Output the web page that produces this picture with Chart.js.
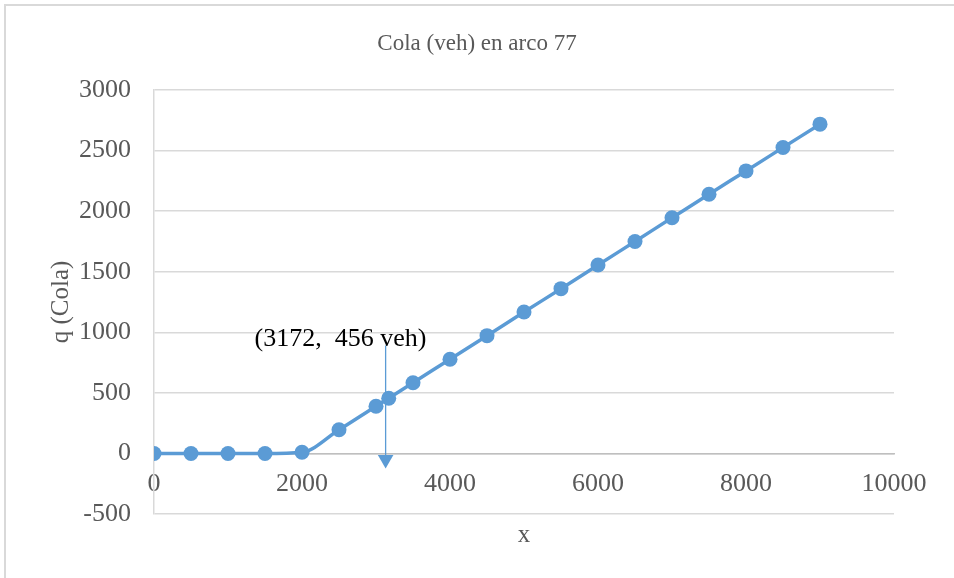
<!DOCTYPE html>
<html>
<head>
<meta charset="utf-8">
<script src="https://cdn.jsdelivr.net/npm/chart.js@4.4.1/dist/chart.umd.min.js"></script>
<style>
  body { margin: 0; background: #fff; }
  #wrap { position: relative; width: 954px; height: 578px; overflow: hidden; }
  #frame { position: absolute; left: 4px; top: 4px; width: 1000px; height: 1000px; border: 2px solid #d9d9d9; }
  #chart { position: absolute; left: 0; top: 0; }
</style>
</head>
<body>
<div id="wrap">
  <div id="frame"></div>
  <canvas id="chart" width="954" height="578"></canvas>
</div>
<script>
// datos de la cola en el arco 77
const xs = [0, 500, 1000, 1500, 2000, 2500, 3000, 3172, 3500, 4000, 4500, 5000, 5500, 6000, 6500, 7000, 7500, 8000, 8500, 9000];
const qs = [0, 0, 0, 0, 10, 195, 390, 456, 583, 778, 972, 1167, 1360, 1555, 1750, 1945, 2140, 2332, 2525, 2718];

// flecha de la anotacion
const arrowX = [3130, 3130];
const arrowY = [890, -50];
const noteText = "(3172,  456 veh)";
const notePos = [2520, 946];

const azul = "#5b9bd5";
const gris = "#595959";
const serif = "'Liberation Serif', 'Times New Roman', serif";

const plainTick = v => String(v);

const notePlugin = {
    id: "note",
    afterDatasetsDraw(chart) {
        const ctx = chart.ctx;
        const px = chart.scales.x.getPixelForValue(notePos[0]);
        const py = chart.scales.y.getPixelForValue(notePos[1]);
        ctx.save();
        ctx.font = "26px " + serif;
        ctx.fillStyle = "#000";
        ctx.textAlign = "center";
        ctx.textBaseline = "middle";
        ctx.fillText(noteText, px, py);
        ctx.restore();
    }
};

new Chart(document.getElementById("chart"), {
    type: "line",
    data: {
        datasets: [
            {
                label: "flecha",
                data: arrowX.map((x, i) => ({ x: x, y: arrowY[i] })),
                borderColor: azul,
                backgroundColor: azul,
                borderWidth: 1.3,
                pointRadius: [0, 9],
                pointStyle: "triangle",
                rotation: 180,
                pointBorderWidth: 0,
                tension: 0
            },
            {
                label: "q (Cola)",
                data: xs.map((x, i) => ({ x: x, y: qs[i] })),
                borderColor: azul,
                backgroundColor: azul,
                borderWidth: 3.5,
                pointRadius: 7.5,
                pointBorderWidth: 0,
                pointBackgroundColor: azul,
                cubicInterpolationMode: "monotone",
                tension: 0.4
            }
        ]
    },
    options: {
        responsive: false,
        animation: false,
        layout: { padding: { left: 0, right: 0, top: 0, bottom: 0 } },
        plugins: {
            legend: { display: false },
            tooltip: { enabled: false },
            title: {
                display: true,
                text: "Cola (veh) en arco 77",
                color: gris,
                font: { family: serif, size: 23, weight: "normal" },
                padding: { top: 30, bottom: 32.4 }
            }
        },
        scales: {
            x: {
                type: "linear",
                position: "bottom",
                min: 0,
                max: 10000,
                ticks: { display: false },
                grid: { display: false, drawTicks: false },
                border: { display: false },
                title: {
                    display: true,
                    text: "x",
                    color: gris,
                    font: { family: serif, size: 25 },
                    padding: { top: 0, bottom: 28 }
                },
                afterFit: s => { s.height = 64; }
            },
            x2: {
                type: "linear",
                position: { y: 0 },
                min: 0,
                max: 10000,
                ticks: {
                    stepSize: 2000,
                    color: gris,
                    padding: 15,
                    font: { family: serif, size: 26 },
                    callback: plainTick
                },
                grid: { display: false, drawTicks: false },
                border: { display: true, color: "#bfbfbf", width: 1.5 }
            },
            y: {
                position: "left",
                min: -500,
                max: 3000,
                ticks: {
                    stepSize: 500,
                    color: gris,
                    padding: 23,
                    font: { family: serif, size: 26 },
                    callback: plainTick
                },
                grid: { color: "#d9d9d9", lineWidth: 1.5, drawTicks: false },
                border: { display: true, color: "#d9d9d9", width: 1.5 },
                title: {
                    display: true,
                    text: "q (Cola)",
                    color: gris,
                    font: { family: serif, size: 25 },
                    padding: { top: 46, bottom: 0 }
                },
                afterFit: s => { s.width = 154; }
            },
            y2: {
                position: "right",
                ticks: { display: false },
                grid: { display: false, drawTicks: false },
                border: { display: false },
                afterFit: s => { s.width = 60; }
            }
        }
    },
    plugins: [notePlugin]
});
</script>
</body>
</html>
